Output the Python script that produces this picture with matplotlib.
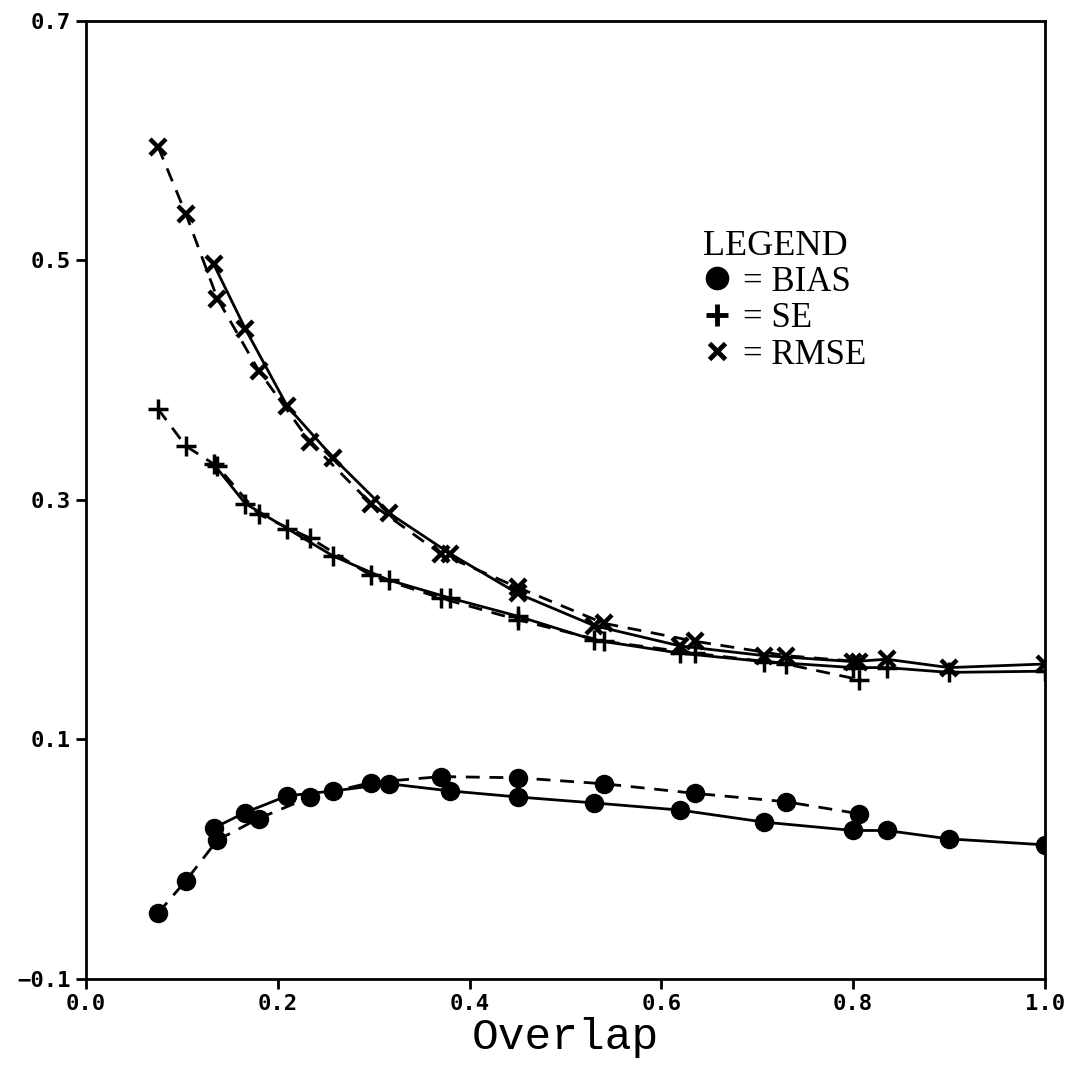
import matplotlib.pyplot as plt
from matplotlib.lines import Line2D

# x positions (overlap) for the two runs
x_dash = [0.075, 0.104, 0.137, 0.18, 0.234, 0.297, 0.37, 0.45, 0.54, 0.635, 0.73, 0.806]
x_solid = [0.133, 0.166, 0.21, 0.258, 0.316, 0.38, 0.45, 0.53, 0.62, 0.707, 0.80, 0.835, 0.90, 1.0]

# dashed run
bias_dash = [-0.045, -0.018, 0.016, 0.034, 0.052, 0.064, 0.069, 0.068, 0.063, 0.055, 0.048, 0.038]
se_dash = [0.376, 0.345, 0.328, 0.288, 0.268, 0.237, 0.218, 0.200, 0.182, 0.172, 0.163, 0.150]
rmse_dash = [0.595, 0.539, 0.468, 0.408, 0.348, 0.297, 0.255, 0.227, 0.197, 0.182, 0.170, 0.165]

# solid run
bias_solid = [0.026, 0.039, 0.053, 0.057, 0.063, 0.057, 0.052, 0.047, 0.041, 0.031, 0.024, 0.024, 0.017, 0.012]
se_solid = [0.330, 0.297, 0.276, 0.253, 0.233, 0.218, 0.203, 0.183, 0.172, 0.165, 0.160, 0.160, 0.156, 0.157]
rmse_solid = [0.497, 0.443, 0.378, 0.335, 0.289, 0.255, 0.222, 0.195, 0.178, 0.170, 0.165, 0.167, 0.160, 0.163]

y_ticks = [-0.1, 0.1, 0.3, 0.5, 0.7]
y_ticklabels = ["\u22120.1", "0.1", "0.3", "0.5", "0.7"]
x_ticks = [0.0, 0.2, 0.4, 0.6, 0.8, 1.0]
x_ticklabels = ["0.0", "0.2", "0.4", "0.6", "0.8", "1.0"]

fig = plt.figure(figsize=(10.76, 10.73), dpi=100)
ax = fig.add_axes([0.080, 0.0876, 0.891, 0.893])

dash = (0, (5, 3.5))
styles = [
    (bias_dash, bias_solid, dict(marker="o", markersize=13)),
    (se_dash, se_solid, dict(marker="+", markersize=15, markeredgewidth=2.5)),
    (rmse_dash, rmse_solid, dict(marker="x", markersize=12, markeredgewidth=3.2)),
]
for yd, ys, mk in styles:
    ax.plot(x_dash, yd, color="black", lw=2.0, linestyle=dash, **mk)
    ax.plot(x_solid, ys, color="black", lw=2.0, linestyle="-", **mk)

ax.set_xlim(0.0, 1.0)
ax.set_ylim(-0.1, 0.7)
ax.set_xticks(x_ticks)
ax.set_xticklabels(x_ticklabels)
ax.set_yticks(y_ticks)
ax.set_yticklabels(y_ticklabels)

for lab in ax.get_xticklabels() + ax.get_yticklabels():
    lab.set_fontfamily("DejaVu Sans Mono")
    lab.set_fontweight("bold")
    lab.set_fontsize(16)

ax.tick_params(direction="out", length=7, width=2.0, pad=4)
for sp in ax.spines.values():
    sp.set_linewidth(2.0)

ax.set_xlabel("Overlap", family="Liberation Mono", fontsize=32, labelpad=2)

handles = [
    Line2D([], [], color="black", ls="none", marker="o", markersize=16),
    Line2D([], [], color="black", ls="none", marker="+", markersize=16, markeredgewidth=3.5),
    Line2D([], [], color="black", ls="none", marker="x", markersize=12, markeredgewidth=3.5),
]
leg = ax.legend(handles, ["= BIAS", "= SE", "= RMSE"], title="LEGEND",
                frameon=False, loc="upper left", bbox_to_anchor=(0.625, 0.80),
                handlelength=0.8, handletextpad=0.35, labelspacing=0.1,
                borderpad=0.0, prop=dict(family="Liberation Serif", size=25),
                title_fontproperties=dict(family="Liberation Serif", size=26))
leg._legend_box.align = "left"
leg._legend_box.sep = 2

fig.savefig("out.png", dpi=100)
